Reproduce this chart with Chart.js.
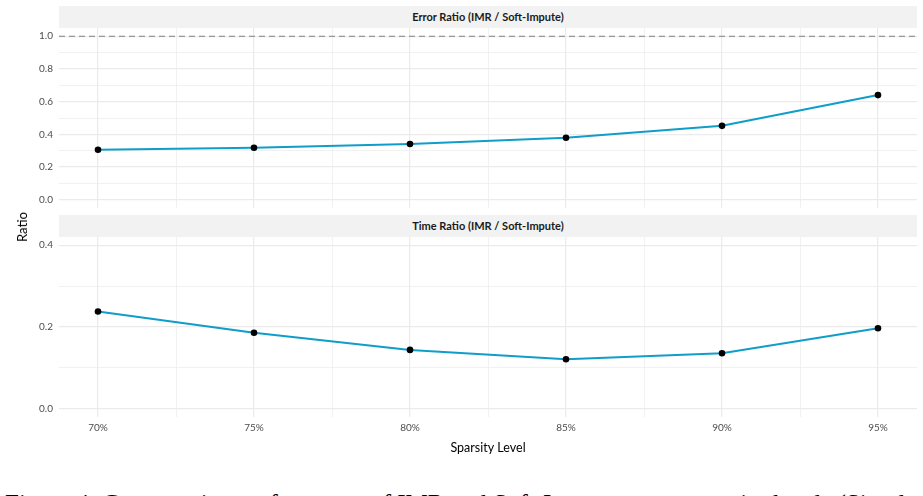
<!DOCTYPE html>
<html>
<head>
<meta charset="utf-8">
<script src="https://cdn.jsdelivr.net/npm/chart.js@4.4.0/dist/chart.umd.min.js"></script>
<style>
html, body { margin:0; padding:0; background:#fff; width:923px; height:496px; overflow:hidden; }
#wrap { position:relative; width:923px; height:496px; overflow:hidden; }
canvas { position:absolute; left:0; }
.strip { position:absolute; left:59px; width:858px; height:22px; background:#f2f2f2;
  font: bold 11px "Lato", sans-serif; color:#1a1a1a; text-align:center; line-height:22px; }
#ytitle { position:absolute; left:22px; top:227px; transform: translate(-50%,-50%) rotate(-90deg);
  font: 13px "Lato", sans-serif; color:#000; white-space:nowrap; }
#caption { position:absolute; left:5px; top:490px; font: 25px "Liberation Serif", serif; color:#000; white-space:nowrap; }
</style>
</head>
<body>
<div id="wrap">
  <canvas id="top" width="923" height="212" style="top:0px"></canvas>
  <canvas id="bottom" width="923" height="250" style="top:210px"></canvas>
  <div class="strip" id="strip0" style="top:6px"></div>
  <div class="strip" id="strip1" style="top:215px"></div>
  <div id="ytitle"></div>
  <div id="caption"></div>
</div>
<script>
// ---- Data ----
const sparsityLevels = [70, 75, 80, 85, 90, 95];
const xTickLabels = ['70%', '75%', '80%', '85%', '90%', '95%'];
const errorRatio = [0.306, 0.318, 0.341, 0.379, 0.452, 0.640];
const timeRatio = [0.238, 0.186, 0.144, 0.121, 0.136, 0.197];
const errorYTicks = [0.0, 0.2, 0.4, 0.6, 0.8, 1.0];
const timeYTicks = [0.0, 0.2, 0.4];
const errorYLimits = [0, 1.0];
const timeYLimits = [0, 0.4];
const errorReference = 1.0;
const stripTitles = ['Error Ratio (IMR / Soft-Impute)', 'Time Ratio (IMR / Soft-Impute)'];
const xTitle = 'Sparsity Level';
const yTitle = 'Ratio';
const captionText = 'Figure 4: Comparative performance of IMR and Soft-Impute across sparsity levels (Simulated data)';

document.getElementById('strip0').textContent = stripTitles[0];
document.getElementById('strip1').textContent = stripTitles[1];
document.getElementById('ytitle').textContent = yTitle;
document.getElementById('caption').textContent = captionText;

const FONT = '"Lato", sans-serif';
const LINE = '#0f9dca';
const GRID = '#ebebeb';

function midpoints(a) { const m = []; for (let i = 0; i < a.length - 1; i++) m.push((a[i] + a[i+1]) / 2); return m; }
function expand(lo, hi) { const d = (hi - lo) * 0.05; return [lo - d, hi + d]; }

const xMinor = midpoints(sparsityLevels);
const xRange = expand(sparsityLevels[0], sparsityLevels[sparsityLevels.length - 1]);

const refLinePlugin = {
  id: 'refLine',
  beforeDatasetsDraw(chart) {
    const ref = chart.options.plugins.refLine;
    if (!ref || ref.value === undefined || ref.value === null) return;
    const y = chart.scales.y.getPixelForValue(ref.value);
    const ctx = chart.ctx, a = chart.chartArea;
    ctx.save();
    ctx.strokeStyle = '#7f7f7f';
    ctx.lineWidth = 1.1;
    ctx.setLineDash([6, 4]);
    ctx.beginPath();
    ctx.moveTo(a.left, y);
    ctx.lineTo(a.right, y);
    ctx.stroke();
    ctx.restore();
  }
};

function makePanel(id, values, yMajor, yLimits, showX, refValue) {
  const yMinor = midpoints(yMajor);
  const yRange = expand(yLimits[0], yLimits[1]);
  const xAll = sparsityLevels.concat(xMinor).sort((a, b) => a - b);
  const yAll = yMajor.concat(yMinor).sort((a, b) => a - b);
  const isMajorX = v => sparsityLevels.some(s => Math.abs(s - v) < 1e-9);
  const isMajorY = v => yMajor.some(s => Math.abs(s - v) < 1e-9);
  return new Chart(document.getElementById(id), {
    type: 'line',
    data: {
      datasets: [{
        data: sparsityLevels.map((s, i) => ({ x: s, y: values[i] })),
        borderColor: LINE,
        borderWidth: 2,
        pointRadius: 3.3,
        pointBackgroundColor: '#000',
        pointBorderWidth: 0,
        tension: 0,
        fill: false
      }]
    },
    options: {
      responsive: false,
      animation: false,
      layout: { padding: showX ? { top: 27, right: 6, left: 0, bottom: 0 } : { top: 28, right: 6, left: 0, bottom: 0 } },
      plugins: {
        legend: { display: false },
        tooltip: { enabled: false },
        refLine: { value: refValue }
      },
      scales: {
        x: {
          type: 'linear',
          min: xRange[0],
          max: xRange[1],
          afterBuildTicks: s => { s.ticks = xAll.map(v => ({ value: v })); },
          afterFit: s => { s.height = showX ? 43 : 4; s.paddingLeft = 0; s.paddingRight = 0; },
          border: { display: false },
          grid: {
            drawTicks: false,
            color: GRID,
            lineWidth: ctx => (ctx.tick && isMajorX(ctx.tick.value)) ? 1.2 : 0.7
          },
          ticks: {
            display: showX,
            padding: 5,
            autoSkip: false,
            maxRotation: 0,
            color: '#4d4d4d',
            font: { family: FONT, size: 10 },
            callback: v => { const i = sparsityLevels.findIndex(s => Math.abs(s - v) < 1e-9); return i >= 0 ? xTickLabels[i] : ''; }
          },
          title: {
            display: showX,
            text: xTitle,
            color: '#000',
            font: { family: FONT, size: 12.5 },
            padding: { top: 0, bottom: 4.5 }
          }
        },
        y: {
          type: 'linear',
          min: yRange[0],
          max: yRange[1],
          afterBuildTicks: s => { s.ticks = yAll.map(v => ({ value: v })); },
          afterFit: s => { s.width = 59; s.paddingTop = 0; s.paddingBottom = 0; },
          border: { display: false },
          grid: {
            drawTicks: false,
            color: GRID,
            lineWidth: ctx => (ctx.tick && isMajorY(ctx.tick.value)) ? 1.2 : 0.7
          },
          ticks: {
            padding: 6,
            autoSkip: false,
            color: '#4d4d4d',
            font: { family: FONT, size: 10 },
            callback: v => isMajorY(v) ? v.toFixed(1) : ''
          }
        }
      }
    },
    plugins: [refLinePlugin]
  });
}

makePanel('top', errorRatio, errorYTicks, errorYLimits, false, errorReference);
makePanel('bottom', timeRatio, timeYTicks, timeYLimits, true, null);
</script>
</body>
</html>
